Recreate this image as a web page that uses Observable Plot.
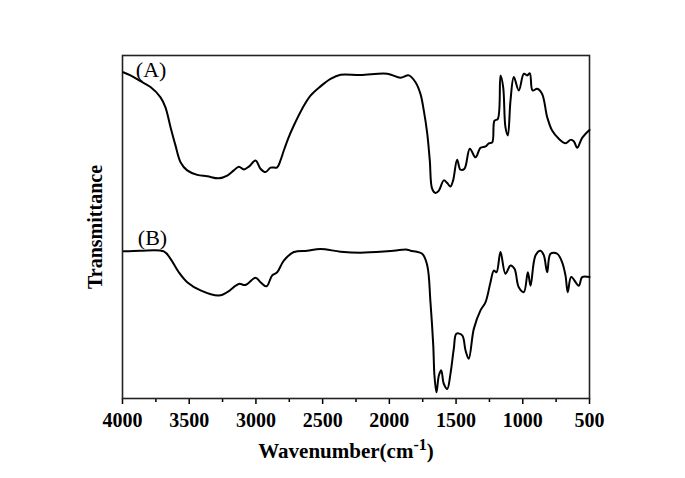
<!DOCTYPE html>
<html><head><meta charset="utf-8">
<script src="https://cdn.jsdelivr.net/npm/d3@7"></script>
<script src="https://cdn.jsdelivr.net/npm/@observablehq/plot@0.6"></script>
<style>body{margin:0;background:#fff}</style>
</head><body><div id="chart"></div>
<script>
// Spectrum (A): wavenumber (cm-1) and transmittance (a.u.)
const waveA = [3995,3940,3865,3790,3715,3678,3640,3603,3565,3515,3440,3365,3278,3215,3166,3128,3091,3053,3003,2966,2928,2891,2841,2816,2791,2754,2716,2653,2591,2516,2441,2366,2216,2016,1917,1854,1804,1767,1742,1716,1697,1679,1654,1629,1592,1566,1542,1522,1492,1467,1437,1397,1354,1317,1279,1255,1229,1212,1187,1167,1147,1130,1112,1092,1067,1030,992,967,947,927,892,855,817,780,730,680,642,618,592,555,500];
const transA = [95.1,94.2,92.5,90.8,87.8,84.9,79.1,73.8,68.9,66.5,65.2,64.8,64.2,65.0,66.5,67.6,66.8,67.6,69.4,67.0,66.0,67.3,67.4,69.4,72.3,76.2,79.6,84.5,88.3,91.0,93.2,94.4,94.3,94.7,93.5,94.2,92.2,88.8,84.0,77.2,69.4,61.1,59.9,60.6,63.6,62.8,61.8,63.6,69.6,66.7,67.0,72.8,70.3,73.1,73.5,74.4,74.7,81.0,81.5,94.2,90.8,79.1,76.7,86.9,93.7,89.8,94.7,94.2,94.8,89.8,90.3,88.8,82.0,78.1,75.7,74.4,75.4,75.0,73.1,76.0,78.3];
// Spectrum (B)
const waveB = [3990,3865,3690,3640,3578,3515,3415,3278,3215,3128,3078,3003,2966,2921,2878,2841,2791,2716,2616,2516,2366,2216,2016,1866,1842,1754,1716,1692,1671,1662,1647,1629,1611,1592,1566,1542,1517,1497,1454,1429,1405,1367,1317,1279,1242,1217,1197,1167,1130,1092,1062,1030,992,962,942,905,867,842,817,792,742,705,680,663,637,580,555,500];
const transB = [42.9,43.1,42.9,40.7,36.8,33.9,31.5,30.0,31.0,33.4,33.1,35.2,33.9,32.7,35.9,36.8,40.2,42.7,43.1,43.6,42.8,42.5,42.9,43.4,43.1,42.2,38.8,28.1,15.5,6.7,1.8,6.7,8.2,4.3,2.8,7.2,14.5,18.9,18.4,14.0,11.6,20.3,25.7,28.1,33.9,37.3,36.8,42.7,36.4,38.8,37.8,32.4,31.0,36.8,32.9,41.7,43.1,41.7,36.8,42.2,42.2,39.7,35.9,31.0,35.4,32.9,35.4,35.4];
const majorTicks = [4000,3500,3000,2500,2000,1500,1000,500];
const minorTicks = [3750,3250,2750,2250,1750,1250,750];
const seriesLabels = ["(A)", "(B)"];
const labelPos = [{w: 3900, t: 95.9}, {w: 3885, t: 46.9}];

const A = waveA.map((w, i) => ({w, t: transA[i]}));
const B = waveB.map((w, i) => ({w, t: transB[i]}));
const lab = seriesLabels.map((s, i) => ({s, ...labelPos[i]}));

const font = "'Liberation Serif', 'Times New Roman', serif";
const chart = Plot.plot({
  width: 685, height: 478,
  marginLeft: 122, marginRight: 96, marginTop: 55, marginBottom: 80,
  style: {fontFamily: font, fontSize: "20px", fontWeight: "bold", color: "#000", background: "#fff"},
  x: {domain: [4000, 500], axis: null},
  y: {domain: [0, 100], axis: null},
  marks: [
    Plot.axisX({ticks: majorTicks, tickSize: 6, tickPadding: 8, tickFormat: d => String(d), label: null, strokeWidth: 1.5, fontSize: 20, fontWeight: "bold"}),
    Plot.axisX({ticks: minorTicks, tickSize: 4, tickFormat: () => "", label: null, strokeWidth: 1.5}),
    Plot.frame({stroke: "#222", strokeWidth: 1.6}),
    Plot.line(A, {x: "w", y: "t", stroke: "#000", strokeWidth: 2, curve: "catmull-rom"}),
    Plot.line(B, {x: "w", y: "t", stroke: "#000", strokeWidth: 2, curve: "catmull-rom"}),
    Plot.text(lab, {x: "w", y: "t", text: "s", textAnchor: "start", fontSize: 22, fontWeight: "normal"}),
    Plot.text(["Transmittance"], {frameAnchor: "left", textAnchor: "middle", rotate: -90, dx: -27, fontSize: 20, fontWeight: "bold"})
  ]
});
document.getElementById("chart").appendChild(chart);
const svg = d3.select(chart);
svg.selectAll('g[aria-label="x-axis tick label"] text').style("font-size", "20px").style("font-weight", "bold");
const t = svg.append("text").attr("x", 346).attr("y", 458).attr("text-anchor", "middle")
  .attr("font-family", font).attr("font-size", 21).attr("font-weight", "bold").attr("fill", "#000");
t.append("tspan").text("Wavenumber(cm");
t.append("tspan").attr("dy", -8).attr("font-size", 16).text("-1");
t.append("tspan").attr("dy", 8).text(")");
</script></body></html>
